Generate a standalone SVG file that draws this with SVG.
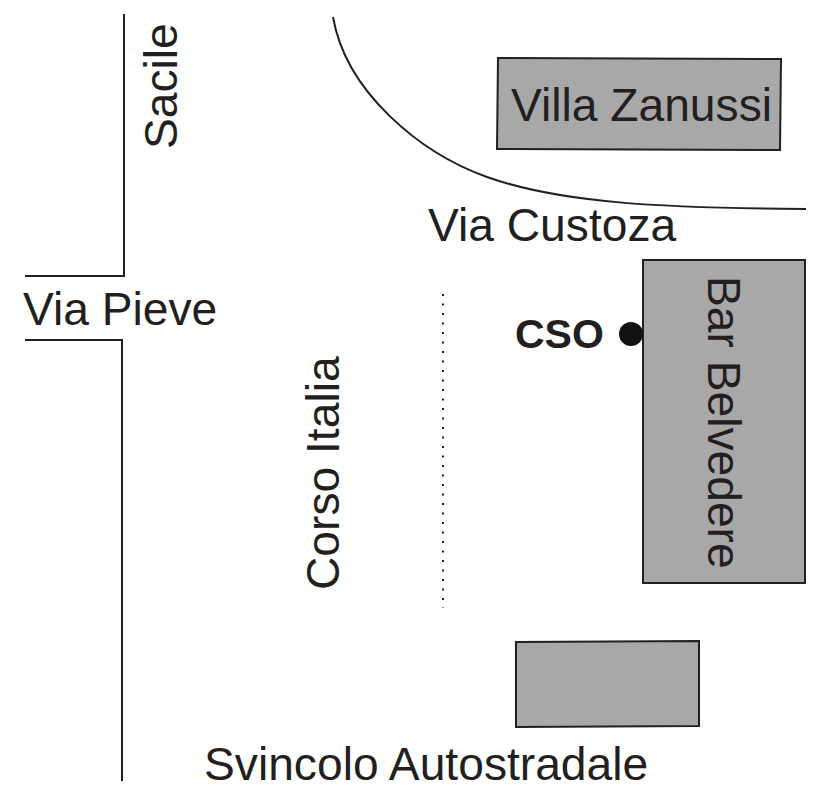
<svg xmlns="http://www.w3.org/2000/svg" width="826" height="803" viewBox="0 0 826 803">
<style>
.l{fill:none;stroke:#231f20;stroke-width:2}
.b{fill:#a8a8a8;stroke:#231f20;stroke-width:2}
text{font-family:"Liberation Sans",Arial,sans-serif;font-size:46.2px;fill:#231f20}
</style>
<rect width="826" height="803" fill="#fff"/>
<g id="roads">
<path class="l" d="M124 14V276H25"/>
<path class="l" d="M25 340H122V781"/>
<path class="l" d="M333 17C346 92 420 153 487 177C560 203 660 208 806 209"/>
<path d="M443 294V608" fill="none" stroke="#231f20" stroke-width="2" stroke-dasharray="2 7.5"/>
</g>
<g id="villa"><polygon class="b" points="498,58 781,59 780,150 497,149"/><text x="511" y="120.500">Villa Zanussi</text></g>
<g id="bar"><rect class="b" x="643" y="260" width="162" height="323"/><text transform="translate(708 276) rotate(90)">Bar Belvedere</text></g>
<g id="svincolo-block"><polygon class="b" points="516,642 699,641 699,726 516,727"/></g>
<g id="cso"><circle cx="631" cy="334" r="12" fill="#111"/><text x="515" y="348" style="font-weight:bold;font-size:41px">CSO</text></g>
<text x="428" y="241">Via Custoza</text>
<text x="23" y="325">Via Pieve</text>
<text transform="translate(177 149) rotate(-90)">Sacile</text>
<text transform="translate(339 590) rotate(-90)">Corso Italia</text>
<text x="204" y="780">Svincolo Autostradale</text>
</svg>
